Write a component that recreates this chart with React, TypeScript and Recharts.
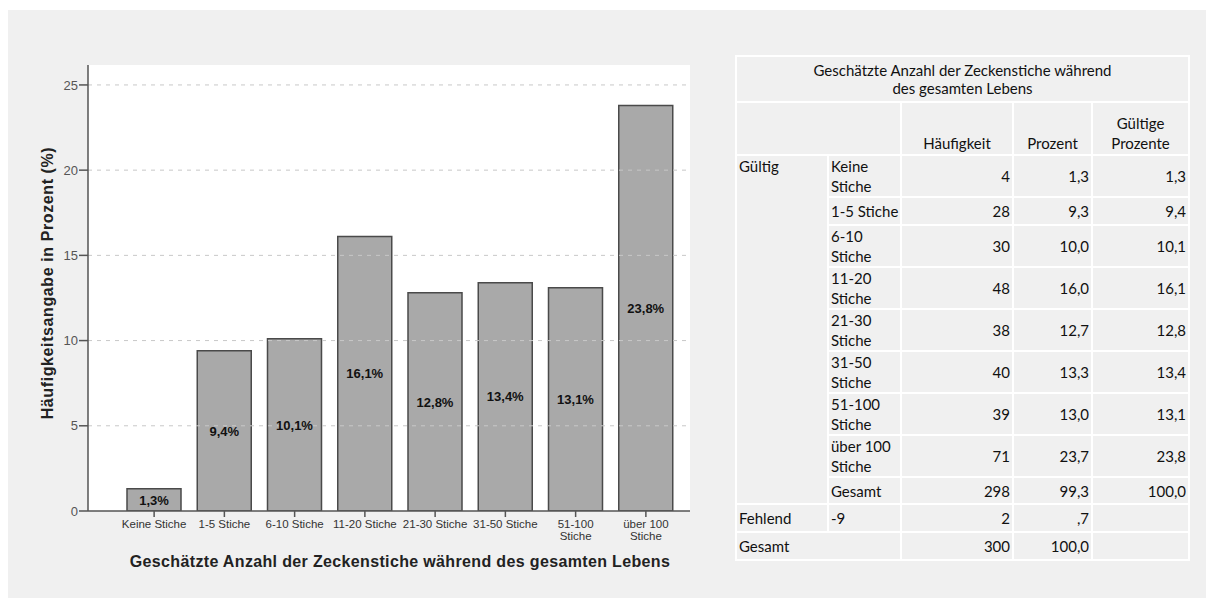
import React from 'react';
import { BarChart, Bar, XAxis, YAxis, CartesianGrid, LabelList, ReferenceLine } from 'recharts';

// Kategorien (Achsenbeschriftung der Balken, mit Zeilenumbruch)
const categories = [
  'Keine Stiche',
  '1-5 Stiche',
  '6-10 Stiche',
  '11-20 Stiche',
  '21-30 Stiche',
  '31-50 Stiche',
  '51-100\nStiche',
  'über 100\nStiche',
];

// Tabellen-Beschriftung der Kategorien
const tableLabels = [
  'Keine\nStiche',
  '1-5 Stiche',
  '6-10\nStiche',
  '11-20\nStiche',
  '21-30\nStiche',
  '31-50\nStiche',
  '51-100\nStiche',
  'über 100\nStiche',
];

const counts = [4, 28, 30, 48, 38, 40, 39, 71];
const percents = ['1,3', '9,3', '10,0', '16,0', '12,7', '13,3', '13,0', '23,7'];
const validPercents = [1.3, 9.4, 10.1, 16.1, 12.8, 13.4, 13.1, 23.8];

const yTicks = [0, 5, 10, 15, 20, 25];

const chartData = categories.map((c, i) => ({ name: c, value: validPercents[i] }));

const AXIS_FONT = '"Liberation Sans", Arial, sans-serif';
const TABLE_FONT = 'Lato, "Open Sans", sans-serif';

// x-Achsen-Tick mit mehrzeiligem Text
const XTick = (props: any) => {
  const { x, y, payload } = props;
  const lines = String(payload.value).split('\n');
  return (
    <g transform={`translate(${x},${y})`}>
      {lines.map((l, i) => (
        <text
          key={i}
          x={0}
          y={i * 12}
          dy={9}
          textAnchor="middle"
          fontSize={11.5}
          fill="#333"
          fontFamily={AXIS_FONT}
        >
          {l}
        </text>
      ))}
    </g>
  );
};

const fmt = (v: any) => `${Number(v).toFixed(1).replace('.', ',')}%`;

const td: React.CSSProperties = {
  border: '2px solid #fff',
  padding: '0 2px',
  verticalAlign: 'middle',
  whiteSpace: 'pre',
  lineHeight: '20px',
};
const num: React.CSSProperties = { ...td, textAlign: 'right' };
const top: React.CSSProperties = { ...td, verticalAlign: 'top' };

const rowH = [41, 28, 41, 41, 41, 41, 42, 41];

function FrequencyTable() {
  return (
    <table
      style={{
        position: 'absolute',
        left: 727,
        top: 45,
        width: 453,
        height: 498,
        borderCollapse: 'collapse',
        tableLayout: 'fixed',
        fontFamily: TABLE_FONT,
        fontSize: 15,
        color: '#111',
        background: '#f0f0f0',
      }}
    >
      <colgroup>
        <col style={{ width: 92 }} />
        <col style={{ width: 73 }} />
        <col style={{ width: 112 }} />
        <col style={{ width: 79 }} />
        <col style={{ width: 97 }} />
      </colgroup>
      <tbody>
        <tr style={{ height: 46 }}>
          <td colSpan={5} style={{ ...td, textAlign: 'center', lineHeight: '18px' }}>
            {'Geschätzte Anzahl der Zeckenstiche während\ndes gesamten Lebens'}
          </td>
        </tr>
        <tr style={{ height: 53 }}>
          <td colSpan={2} style={td}></td>
          <td style={{ ...td, textAlign: 'center', verticalAlign: 'bottom', paddingBottom: 1 }}>Häufigkeit</td>
          <td style={{ ...td, textAlign: 'center', verticalAlign: 'bottom', paddingBottom: 1 }}>Prozent</td>
          <td style={{ ...td, textAlign: 'center', verticalAlign: 'bottom', paddingBottom: 1 }}>{'Gültige\nProzente'}</td>
        </tr>
        {tableLabels.map((l, i) => (
          <tr key={l} style={{ height: rowH[i] }}>
            {i === 0 && (
              <td rowSpan={9} style={top}>
                Gültig
              </td>
            )}
            <td style={td}>{l}</td>
            <td style={num}>{counts[i]}</td>
            <td style={num}>{percents[i]}</td>
            <td style={num}>{validPercents[i].toFixed(1).replace('.', ',')}</td>
          </tr>
        ))}
        <tr style={{ height: 27 }}>
          <td style={td}>Gesamt</td>
          <td style={num}>298</td>
          <td style={num}>99,3</td>
          <td style={num}>100,0</td>
        </tr>
        <tr style={{ height: 28 }}>
          <td style={td}>Fehlend</td>
          <td style={td}>-9</td>
          <td style={num}>2</td>
          <td style={num}>,7</td>
          <td style={td}></td>
        </tr>
        <tr style={{ height: 28 }}>
          <td colSpan={2} style={td}>Gesamt</td>
          <td style={num}>300</td>
          <td style={num}>100,0</td>
          <td style={td}></td>
        </tr>
      </tbody>
    </table>
  );
}

export default function App() {
  return (
    <div
      style={{
        position: 'relative',
        marginTop: 2,
        width: 1206,
        height: 588,
        background: '#f0f0f0',
        overflow: 'hidden',
      }}
    >
      <div style={{ position: 'absolute', left: 0, top: 0 }}>
        <BarChart
          width={700}
          height={588}
          data={chartData}
          margin={{ top: 55, right: 18, left: 20, bottom: 57 }}
          barSize={54}
        >
          {/* nur weisser Hintergrund, Gitterlinien kommen als ReferenceLine */}
          <CartesianGrid vertical={false} horizontal={false} fill="#ffffff" />
          {yTicks
            .filter((t) => t > 0)
            .map((t) => (
              <ReferenceLine key={t} y={t} stroke="#c8c8c8" strokeDasharray="4 5" />
            ))}
          <XAxis
            dataKey="name"
            interval={0}
            height={30}
            padding={{ left: 31, right: 9 }}
            axisLine={{ stroke: '#555', strokeWidth: 1.5 }}
            tickLine={{ stroke: '#555', strokeWidth: 1.5 }}
            tickSize={6}
            tick={<XTick />}
            label={{
              content: (p: any) => {
                const vb = p.viewBox;
                return (
                  <text
                    x={vb.x + 31 + (vb.width - 40) / 2}
                    y={vb.y + 56}
                    textAnchor="middle"
                    fontSize={16}
                    letterSpacing={0.35}
                    fontWeight="bold"
                    fill="#222"
                    fontFamily={AXIS_FONT}
                  >
                    Geschätzte Anzahl der Zeckenstiche während des gesamten Lebens
                  </text>
                );
              },
            }}
          />
          <YAxis
            width={60}
            domain={[0, 26.17]}
            ticks={yTicks}
            allowDataOverflow
            axisLine={{ stroke: '#555', strokeWidth: 1.5 }}
            tickLine={{ stroke: '#555', strokeWidth: 1.5 }}
            tickSize={9}
            tickMargin={1}
            tick={{ fontSize: 13, fill: '#555', fontFamily: AXIS_FONT }}
            label={{
              content: (p: any) => {
                const vb = p.viewBox;
                const cx = vb.x + 19;
                const cy = vb.y + vb.height / 2 - 5;
                return (
                  <text
                    x={cx}
                    y={cy}
                    transform={`rotate(-90 ${cx} ${cy})`}
                    textAnchor="middle"
                    dominantBaseline="central"
                    fontSize={16}
                    letterSpacing={0.6}
                    fontWeight="bold"
                    fill="#222"
                    fontFamily={AXIS_FONT}
                  >
                    Häufigkeitsangabe in Prozent (%)
                  </text>
                );
              },
            }}
          />
          <Bar
            dataKey="value"
            fill="#a9a9a9"
            stroke="#4a4a4a"
            strokeWidth={1.5}
            isAnimationActive={false}
          >
            <LabelList
              dataKey="value"
              position="center"
              formatter={fmt}
              fontSize={13}
              fontWeight="bold"
              fill="#111"
              fontFamily={AXIS_FONT}
            />
          </Bar>
        </BarChart>
      </div>
      <FrequencyTable />
    </div>
  );
}
